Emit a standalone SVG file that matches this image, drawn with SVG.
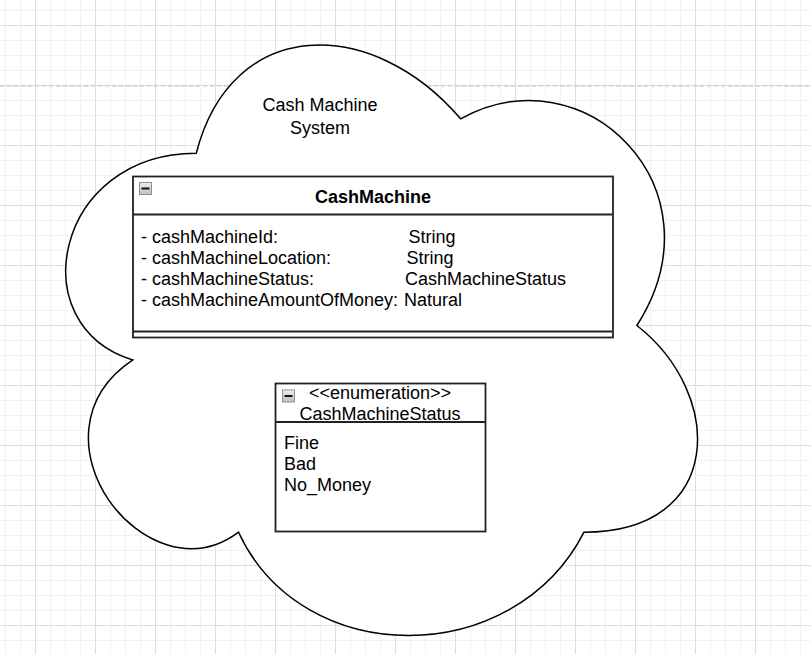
<svg xmlns="http://www.w3.org/2000/svg" width="811" height="654" viewBox="0 0 811 654">
<defs>
<pattern id="grid" x="35" y="25" width="60" height="60" patternUnits="userSpaceOnUse">
<rect width="60" height="60" fill="#ffffff"/>
<g fill="#f1f1f1">
<rect x="15" y="0" width="1" height="60"/><rect x="30" y="0" width="1" height="60"/><rect x="45" y="0" width="1" height="60"/>
<rect x="0" y="15" width="60" height="1"/><rect x="0" y="30" width="60" height="1"/><rect x="0" y="45" width="60" height="1"/>
</g>
<g fill="#dedede">
<rect x="0" y="0" width="1" height="60"/><rect x="0" y="0" width="60" height="1"/>
</g>
</pattern>
<linearGradient id="btn" x1="0" y1="0" x2="0" y2="1">
<stop offset="0" stop-color="#f2f2f2"/><stop offset="1" stop-color="#bdbdc4"/>
</linearGradient>
<g id="minus">
<rect x="0.5" y="0.5" width="12" height="12" fill="url(#btn)" stroke="#8d8d99" stroke-width="1"/>
<rect x="2.5" y="5.5" width="8" height="2" fill="#111"/>
</g>
</defs>
<style>
text{font-family:"Liberation Sans",Arial,sans-serif;font-size:18px;fill:#000}
.b{font-weight:bold}
.m{text-anchor:middle}
.shape{fill:#fff;stroke:#000;stroke-width:1.5}
.box{fill:#fff;stroke:#222;stroke-width:1.8}
.sep{stroke:#222;stroke-width:1.8;fill:none}
</style>
<rect width="811" height="654" fill="url(#grid)"/>
<line x1="0" y1="86" x2="811" y2="86" stroke="#c2c2c2" stroke-width="1" stroke-dasharray="4 3"/>
<g id="cloud">
<path class="shape" d="M196.25,153.25 C55.25,153.25 20,325.5 132.8,359.95 C20,435.74 146.9,601.1 238.55,532.2 C302,670 513.5,670 584,532.2 C725,532.2 725,394.4 636.9,325.5 C725,187.7 584,49.9 460.6,118.8 C372.5,15.45 231.5,15.45 196.25,153.25 Z"/>
<text class="m" x="320" y="111">Cash Machine</text>
<text class="m" x="320" y="134">System</text>
</g>
<g id="CashMachine">
<rect class="box" x="133" y="176.5" width="480" height="161"/>
<line class="sep" x1="133" y1="214.5" x2="613" y2="214.5"/>
<line class="sep" x1="133" y1="331.5" x2="613" y2="331.5"/>
<use href="#minus" x="139" y="182"/>
<text class="b m" x="373" y="203">CashMachine</text>
<text x="141" y="242.5">- cashMachineId:</text><text x="408.5" y="242.5">String</text>
<text x="141" y="263.5">- cashMachineLocation:</text><text x="406.5" y="263.5">String</text>
<text x="141" y="284.5">- cashMachineStatus:</text><text x="405" y="284.5">CashMachineStatus</text>
<text x="141" y="305.5">- cashMachineAmountOfMoney:</text><text x="404" y="305.5">Natural</text>
</g>
<g id="CashMachineStatus">
<rect class="box" x="275.5" y="383.5" width="210" height="148"/>
<line class="sep" x1="275.5" y1="422" x2="485.5" y2="422"/>
<use href="#minus" x="282" y="389.5"/>
<text class="m" x="380" y="399">&lt;&lt;enumeration&gt;&gt;</text>
<text class="m" x="380" y="420">CashMachineStatus</text>
<text x="284" y="449">Fine</text>
<text x="284" y="470">Bad</text>
<text x="284" y="491">No_Money</text>
</g>
<g id="connectors"/>
</svg>
